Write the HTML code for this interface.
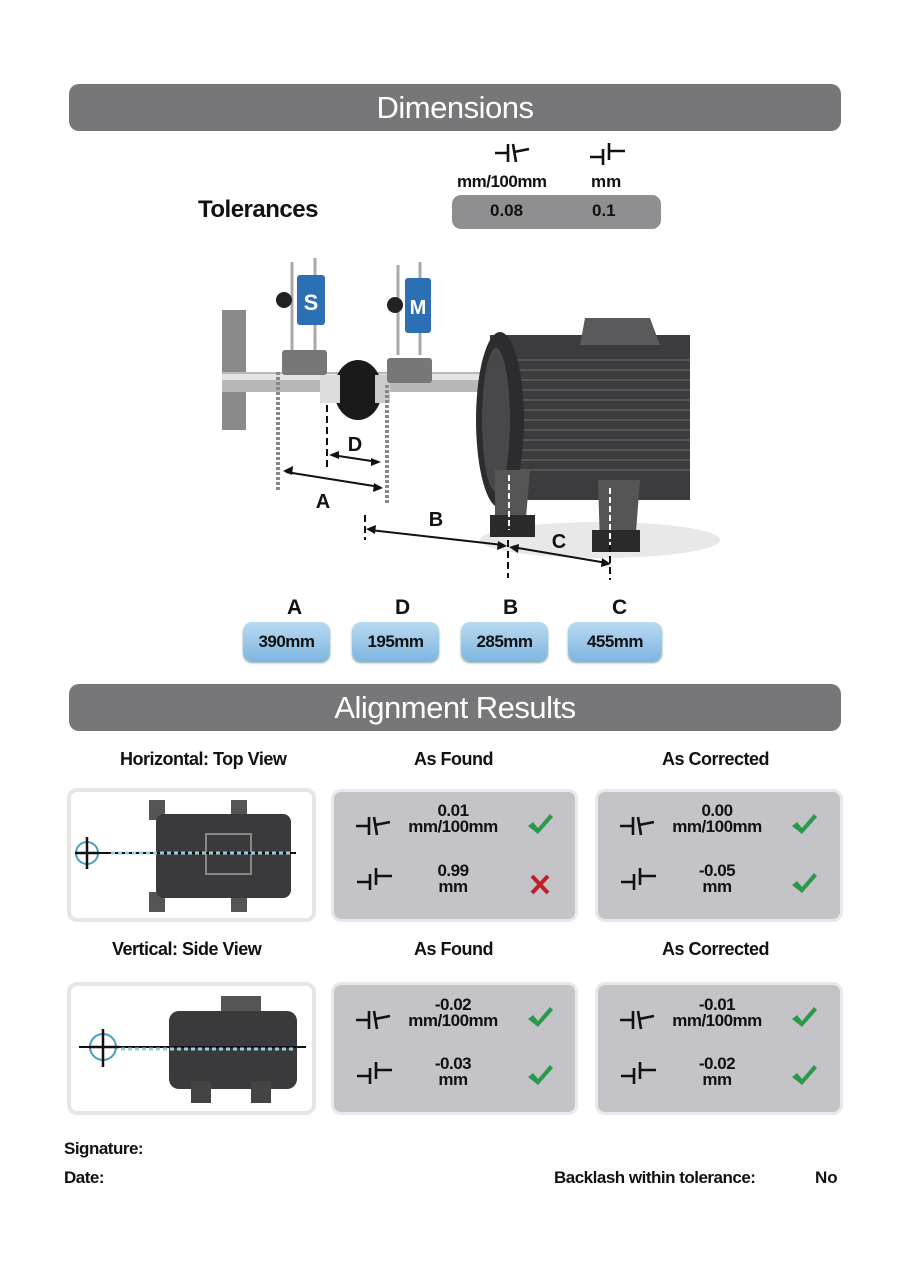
<!DOCTYPE html>
<html><head><meta charset="utf-8"><style>
*{margin:0;padding:0;box-sizing:border-box}
body{width:908px;height:1283px;background:#fff;position:relative;overflow:hidden;font-family:"Liberation Sans",sans-serif;color:#111}
.a{position:absolute}
.hdr{position:absolute;left:69px;width:772px;height:47px;background:#777678;border-radius:10px;color:#fff;font-size:31px;text-align:center;line-height:47px;letter-spacing:-0.5px}
.t{position:absolute;font-weight:bold;white-space:nowrap}
.btn{position:absolute;top:622px;height:39px;border-radius:9px;background:linear-gradient(#b9daf2,#7fb6e0);box-shadow:0 2px 2px #8aa;text-align:center;line-height:39px;font-weight:bold;font-size:17px;letter-spacing:-0.5px}
.box{position:absolute;border:4px solid #e6e6e6;border-radius:10px;background:#fff}
.rb{position:absolute;border:3px solid #e9e9e9;border-radius:10px;background:#c4c3c7}
.val{position:absolute;font-weight:bold;font-size:17px;text-align:center;line-height:16px;letter-spacing:-0.5px;width:120px;z-index:3}
</style></head><body>

<div class="hdr" style="top:84px">Dimensions</div>
<div class="hdr" style="top:684px">Alignment Results</div>

<div class="rb" style="left:331px;top:789px;width:247px;height:133px"></div>
<div class="rb" style="left:595px;top:789px;width:248px;height:133px"></div>
<div class="rb" style="left:331px;top:982px;width:247px;height:133px"></div>
<div class="rb" style="left:595px;top:982px;width:248px;height:133px"></div>

<svg class="a" style="left:0;top:0;z-index:2" width="908" height="1283">
<defs>
<g id="ang" stroke="#111" stroke-width="2.6" fill="none"><path d="M0 10H13M13 1V19M18 1L21 19M19 9L34 6"/></g>
<g id="off" stroke="#111" stroke-width="2.6" fill="none"><path d="M0 14H13M13 6V22M19 0V17M19 8H35"/></g>
<g id="chk"><path d="M0 12L5 8L10 14L22 0L25 3L10 20Z" fill="#2a9a4a"/></g>
</defs>
<use href="#ang" x="495" y="143"/>
<use href="#off" x="590" y="143"/>

<rect x="222" y="250" width="470" height="330" fill="#fff"/>
<rect x="222" y="310" width="24" height="120" fill="#8a8a8a"/>
<rect x="222" y="372" width="262" height="20" fill="#b8b8b8"/>
<rect x="222" y="374" width="262" height="6" fill="#e4e4e4"/>
<ellipse cx="600" cy="540" rx="120" ry="18" fill="#e8e8e8"/>
<rect x="490" y="335" width="200" height="165" fill="#3c3c3e"/>
<g stroke="#555" stroke-width="2"><path d="M500 360H690M500 370H690M500 380H690M500 390H690M500 400H690M500 410H690M500 420H690M500 430H690M500 440H690M500 450H690M500 460H690M500 470H690"/></g>
<ellipse cx="500" cy="420" rx="24" ry="88" fill="#2c2c2e"/>
<ellipse cx="496" cy="420" rx="14" ry="72" fill="#48484a"/>
<path d="M585 318H650L660 345H580Z" fill="#5a5a5c"/>
<path d="M495 470H530L525 530H495Z" fill="#555"/>
<rect x="490" y="515" width="45" height="22" fill="#2a2a2a"/>
<path d="M598 480H640L635 545H600Z" fill="#555"/>
<rect x="592" y="530" width="48" height="22" fill="#2a2a2a"/>
<ellipse cx="358" cy="390" rx="24" ry="30" fill="#1a1a1a"/>
<rect x="320" y="375" width="20" height="28" fill="#ddd"/>
<rect x="375" y="375" width="15" height="28" fill="#ccc"/>
<g stroke="#aaa" stroke-width="3"><path d="M292 262V350M315 258V355M398 265V355M420 262V355"/></g>
<rect x="282" y="350" width="45" height="25" fill="#777" rx="3"/>
<rect x="387" y="358" width="45" height="25" fill="#777" rx="3"/>
<rect x="297" y="275" width="28" height="50" fill="#2c6fb5" rx="3"/>
<text x="311" y="310" font-size="22" font-weight="bold" fill="#fff" text-anchor="middle" font-family="Liberation Sans">S</text>
<rect x="405" y="278" width="26" height="55" fill="#2c6fb5" rx="3"/>
<text x="418" y="314" font-size="20" font-weight="bold" fill="#fff" text-anchor="middle" font-family="Liberation Sans">M</text>
<circle cx="284" cy="300" r="8" fill="#222"/><circle cx="395" cy="305" r="8" fill="#222"/>
<g stroke="#888" stroke-width="4" stroke-dasharray="3 2"><path d="M278 372V492M387 385V505"/></g>
<g stroke="#111" stroke-width="2" stroke-dasharray="7 4" fill="none"><path d="M327 405V470M365 515V540M508 540V578M610 545V580"/></g>
<g stroke="#fff" stroke-width="2" stroke-dasharray="6 3"><path d="M509 475V530M610 488V545"/></g>
<g stroke="#111" stroke-width="2"><path d="M286 472L380 487M332 455L378 462M370 530L503 545M512 547L607 563"/></g>
<g fill="#111"><path d="M283 471l10-5l-1 9z"/><path d="M383 488l-10 4l1-9z"/><path d="M329 455l10-4v8z"/><path d="M381 462l-10 4v-8z"/><path d="M366 529l10-4l-1 9z"/><path d="M507 546l-10 4l1-9z"/><path d="M509 547l10-3l-1 9z"/><path d="M611 564l-10 3l1-9z"/></g>
<g font-family="Liberation Sans" font-weight="bold" font-size="20" fill="#111" text-anchor="middle"><text x="323" y="508">A</text><text x="355" y="451">D</text><text x="436" y="526">B</text><text x="559" y="548">C</text></g>

<use href="#ang" x="356" y="816"/><use href="#off" x="357" y="868"/>
<use href="#ang" x="620" y="816"/><use href="#off" x="621" y="868"/>
<use href="#ang" x="356" y="1010"/><use href="#off" x="357" y="1062"/>
<use href="#ang" x="620" y="1010"/><use href="#off" x="621" y="1062"/>
<use href="#chk" x="528" y="814"/>
<g stroke="#c0202a" stroke-width="4"><path d="M532 876L548 893M548 876L532 893"/></g>
<use href="#chk" x="792" y="814"/><use href="#chk" x="792" y="873"/>
<use href="#chk" x="528" y="1007"/><use href="#chk" x="528" y="1065"/>
<use href="#chk" x="792" y="1007"/><use href="#chk" x="792" y="1065"/>
</svg>

<div class="t" style="left:457px;top:172px;font-size:17px;letter-spacing:-0.5px">mm/100mm</div>
<div class="t" style="left:591px;top:172px;font-size:17px">mm</div>
<div class="t" style="left:198px;top:196px;font-size:24px;letter-spacing:-0.5px">Tolerances</div>
<div class="a" style="left:452px;top:195px;width:209px;height:34px;background:#8f8e91;border-radius:9px"></div>
<div class="t" style="left:490px;top:201px;font-size:17px">0.08</div>
<div class="t" style="left:592px;top:201px;font-size:17px">0.1</div>

<div class="t" style="left:287px;top:596px;font-size:21px">A</div>
<div class="t" style="left:395px;top:596px;font-size:21px">D</div>
<div class="t" style="left:503px;top:596px;font-size:21px">B</div>
<div class="t" style="left:612px;top:596px;font-size:21px">C</div>
<div class="btn" style="left:243px;width:87px">390mm</div>
<div class="btn" style="left:352px;width:87px">195mm</div>
<div class="btn" style="left:461px;width:87px">285mm</div>
<div class="btn" style="left:568px;width:94px">455mm</div>

<div class="t" style="left:120px;top:749px;font-size:18px;letter-spacing:-0.5px">Horizontal: Top View</div>
<div class="t" style="left:414px;top:749px;font-size:18px;letter-spacing:-0.5px">As Found</div>
<div class="t" style="left:662px;top:749px;font-size:18px;letter-spacing:-0.5px">As Corrected</div>
<div class="t" style="left:112px;top:939px;font-size:18px;letter-spacing:-0.5px">Vertical: Side View</div>
<div class="t" style="left:414px;top:939px;font-size:18px;letter-spacing:-0.5px">As Found</div>
<div class="t" style="left:662px;top:939px;font-size:18px;letter-spacing:-0.5px">As Corrected</div>

<div class="box" style="left:67px;top:788px;width:249px;height:134px">
<svg width="241" height="126"><rect x="78" y="8" width="16" height="20" fill="#555"/><rect x="160" y="8" width="16" height="20" fill="#555"/><rect x="78" y="100" width="16" height="20" fill="#555"/><rect x="160" y="100" width="16" height="20" fill="#555"/>
<rect x="85" y="22" width="135" height="84" rx="8" fill="#3a3a3c"/><rect x="135" y="42" width="45" height="40" fill="none" stroke="#888" stroke-width="2"/>
<path d="M8 61H225" stroke="#111" stroke-width="2"/><path d="M40 61H220" stroke="#9cd" stroke-width="3" stroke-dasharray="4 3"/>
<circle cx="16" cy="61" r="11" fill="none" stroke="#4a9ec0" stroke-width="2"/><path d="M16 45V77M4 61H28" stroke="#111" stroke-width="2.5"/></svg></div>
<div class="box" style="left:67px;top:982px;width:249px;height:133px">
<svg width="241" height="125"><rect x="150" y="10" width="40" height="18" fill="#555"/>
<rect x="98" y="25" width="128" height="78" rx="10" fill="#3a3a3c"/><rect x="120" y="95" width="20" height="22" fill="#444"/><rect x="180" y="95" width="20" height="22" fill="#444"/>
<path d="M8 61H235" stroke="#111" stroke-width="2"/><path d="M50 63H225" stroke="#9cd" stroke-width="3" stroke-dasharray="4 3"/>
<circle cx="32" cy="61" r="13" fill="none" stroke="#4a9ec0" stroke-width="2"/><path d="M32 43V81M18 61H48" stroke="#111" stroke-width="2.5"/></svg></div>

<div class="val" style="left:393px;top:803px">0.01<br>mm/100mm</div>
<div class="val" style="left:393px;top:863px">0.99<br>mm</div>
<div class="val" style="left:657px;top:803px">0.00<br>mm/100mm</div>
<div class="val" style="left:657px;top:863px">-0.05<br>mm</div>
<div class="val" style="left:393px;top:997px">-0.02<br>mm/100mm</div>
<div class="val" style="left:393px;top:1056px">-0.03<br>mm</div>
<div class="val" style="left:657px;top:997px">-0.01<br>mm/100mm</div>
<div class="val" style="left:657px;top:1056px">-0.02<br>mm</div>

<div class="t" style="left:64px;top:1139px;font-size:17px;letter-spacing:-0.5px">Signature:</div>
<div class="t" style="left:64px;top:1168px;font-size:17px;letter-spacing:-0.5px">Date:</div>
<div class="t" style="left:554px;top:1168px;font-size:17px;letter-spacing:-0.5px">Backlash within tolerance:</div>
<div class="t" style="left:815px;top:1168px;font-size:17px">No</div>
</body></html>
